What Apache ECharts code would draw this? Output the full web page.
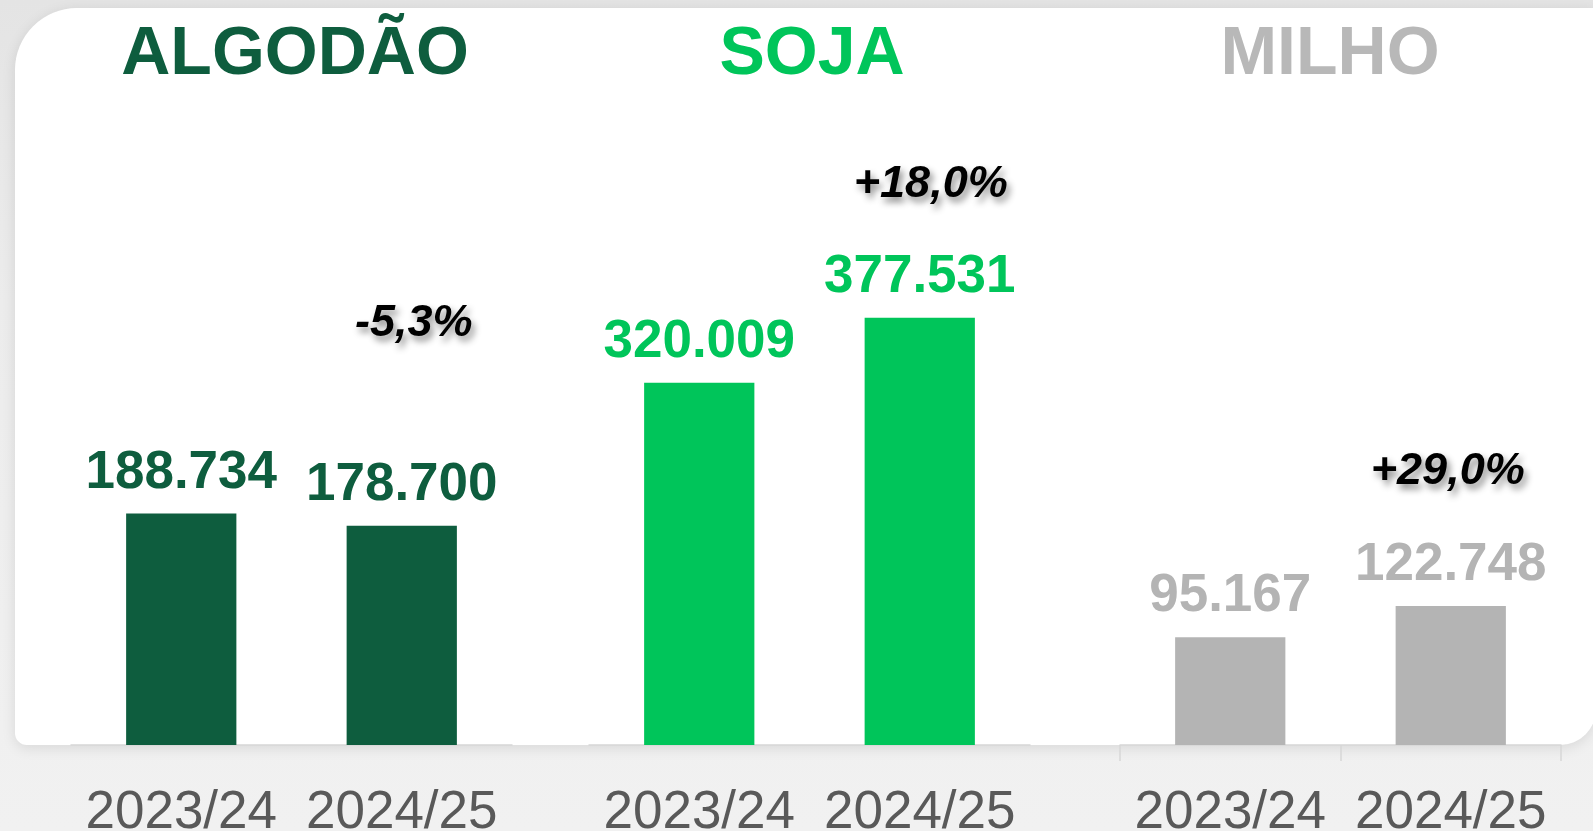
<!DOCTYPE html>
<html>
<head>
<meta charset="utf-8">
<script src="https://cdn.jsdelivr.net/npm/echarts@6/dist/echarts.min.js"></script>
<style>
  html, body { margin: 0; padding: 0; }
  body { background: linear-gradient(#e4e4e4 0px, #ececec 300px, #f1f1f1 831px); }
  #chart { width: 1593px; height: 831px; }
</style>
</head>
<body>
<div id="chart"></div>
<script>
// safras
var categories = ['2023/24', '2024/25']
var crops = ['ALGODÃO', 'SOJA', 'MILHO']
var algodao = [188734, 178700]
var soja = [320009, 377531]
var milho = [95167, 122748]
var changes = ['-5,3%', '+18,0%', '+29,0%']

var colors = ['#0e5d3e', '#00c55a', '#b4b4b4']
var FONT = '"Liberation Sans", Arial, sans-serif'

var chart = echarts.init(document.getElementById('chart'), null, { renderer: 'canvas' })

function fmt(v) {
  return String(v).replace(/\B(?=(\d{3})+(?!\d))/g, '.')
}

// one grid per crop
var gridLeft = [71, 589, 1120]
var yMax = [407500, 441700, 441700]
var pctOffset = [[12, -202], [11, -133], [-3, -134]]
var titleX = [295, 812, 1330]
var seriesData = [algodao, soja, milho]

var grids = [], xAxes = [], yAxes = [], series = [], graphics = []

graphics.push({
  type: 'rect',
  z: -10,
  shape: { x: 15, y: 8, width: 1581, height: 737, r: [62, 0, 36, 12] },
  style: { fill: '#ffffff', shadowBlur: 14, shadowOffsetY: 3, shadowColor: 'rgba(0,0,0,0.10)' }
})

for (var i = 0; i < 3; i++) {
  grids.push({ left: gridLeft[i], width: 441, top: 245, bottom: 86, outerBoundsMode: 'none', containLabel: false })
  xAxes.push({
    type: 'category',
    gridIndex: i,
    data: categories,
    axisLine: { show: true, lineStyle: { color: '#d6d6d6', width: 1.5 } },
    axisTick: { show: i === 2, length: 16, lineStyle: { color: '#d6d6d6', width: 1.5 } },
    axisLabel: { interval: 0, hideOverlap: false, color: '#595959', fontSize: 53, fontFamily: FONT, margin: 42 }
  })
  yAxes.push({ type: 'value', gridIndex: i, min: 0, max: yMax[i], show: false, splitLine: { show: false } })
  series.push({
    type: 'bar',
    name: crops[i],
    xAxisIndex: i,
    yAxisIndex: i,
    data: seriesData[i],
    barWidth: '50%',
    itemStyle: { color: colors[i] },
    label: {
      show: true,
      position: 'top',
      distance: 14,
      color: colors[i],
      fontSize: 53,
      fontWeight: 'bold',
      fontFamily: FONT,
      formatter: function (p) { return fmt(p.value) }
    },
    markPoint: {
      symbol: 'circle',
      symbolSize: 0,
      silent: true,
      data: [{
        coord: [1, seriesData[i][1]],
        label: {
          show: true,
          formatter: changes[i],
          offset: pctOffset[i],
          color: '#000000',
          fontSize: 45,
          fontWeight: 'bold',
          fontStyle: 'italic',
          fontFamily: FONT,
          textShadowColor: 'rgba(0,0,0,0.45)',
          textShadowBlur: 7,
          textShadowOffsetX: 3,
          textShadowOffsetY: 5
        }
      }]
    }
  })
  graphics.push({
    type: 'text',
    x: titleX[i],
    y: 55,
    style: {
      text: crops[i],
      fill: i === 2 ? '#b8b8b8' : colors[i],
      font: 'bold 68px ' + FONT,
      align: 'center',
      verticalAlign: 'middle'
    }
  })
}

chart.setOption({
  animation: false,
  backgroundColor: 'transparent',
  graphic: graphics,
  grid: grids,
  xAxis: xAxes,
  yAxis: yAxes,
  series: series
})
</script>
</body>
</html>
